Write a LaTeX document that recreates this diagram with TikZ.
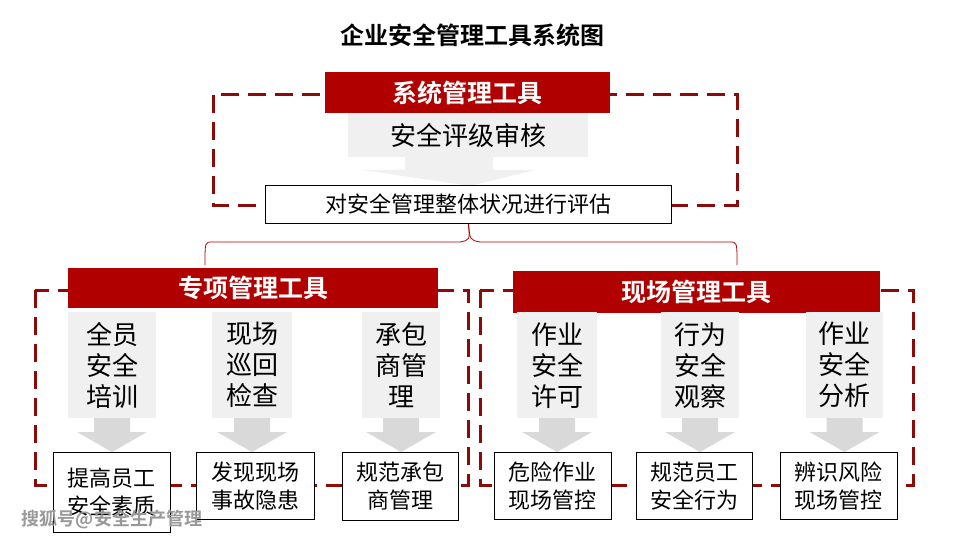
\documentclass[tikz,border=0pt]{standalone}
\usepackage{fontspec}
\setmainfont{Noto Sans CJK SC}
\newfontfamily\cjkb{Noto Sans CJK SC Bold}
\usetikzlibrary{calc}
\definecolor{bred}{HTML}{B00000}
\definecolor{dred}{HTML}{8B0A0A}
\definecolor{lg}{HTML}{F0F0F0}
\definecolor{ag}{HTML}{D9D9D9}
\begin{document}
\begin{tikzpicture}[x=1pt,y=-1pt,
 dframe/.style={draw=dred,line width=3pt,dash pattern=on 18pt off 9pt},
 banner/.style={fill=bred,text=white,font=\cjkb\fontsize{25}{25}\selectfont,inner sep=0pt,anchor=north west},
 gbox/.style={fill=lg,inner sep=0pt,anchor=north west,align=center,font=\fontsize{26}{31}\selectfont},
 wbox/.style={draw=black,fill=white,line width=0.8pt,inner sep=0pt,anchor=north west,align=center,font=\fontsize{22}{28}\selectfont}]
\useasboundingbox (0,0) rectangle (960,540);
\node[font=\cjkb\fontsize{24}{24}\selectfont] (title) at (472,35) {企业安全管理工具系统图};
% top
\draw[dframe] (213,95) rectangle (737,205);
\node[banner,minimum width=285pt,minimum height=41pt] (sb) at (325,72) {系统管理工具};
\node[gbox,minimum width=240pt,minimum height=44pt] (sg) at (348,113) {安全评级审核};
\fill[lg] (405,157) -- (493,157) -- (493,170) -- (535,170) -- (470,186) -- (363,170) -- (405,170) -- cycle;
\node[wbox,minimum width=406pt,minimum height=38pt] (sw) at (265,185) {对安全管理整体状况进行评估};
\draw[bred,line width=0.8pt] (sw.south) .. controls (470,240) .. (480,242) -- (730,242) .. controls (737,242) .. (737,265);
\draw[bred,line width=0.8pt] (sw.south) .. controls (470,240) .. (460,242) -- (212,242) .. controls (205,242) .. (205,265);
% left & right dashed
\draw[dframe] (35,290) rectangle (468,485);
\draw[dframe] (480,290) rectangle (913,485);
\node[banner,minimum width=370pt,minimum height=40pt] (lb) at (68,268) {专项管理工具};
\node[banner,minimum width=367pt,minimum height=42pt] (rb) at (513,271) {现场管理工具};
% columns
\foreach \n/\gx/\gw/\gt/\bx/\bw/\bt/\bh in {
 a/68/88/{全员\\安全\\培训}/53/117/{提高员工\\安全素质}/80,
 b/212/80/{现场\\巡回\\检查}/196/118/{发现现场\\事故隐患}/67,
 c/362/78/{承包\\商管\\理}/342/116/{规范承包\\商管理}/68,
 d/517/80/{作业\\安全\\许可}/494/117/{危险作业\\现场管控}/67,
 e/661/78/{行为\\安全\\观察}/636/116/{规范员工\\安全行为}/67,
 f/806/77/{作业\\安全\\分析}/780/117/{辨识风险\\现场管控}/67}{
 \node[gbox,minimum width=\gw pt,minimum height=106pt] (g\n) at (\gx,312) {\gt};
 \pgfmathsetmacro\cx{\gx+\gw/2}
 \fill[ag] (\cx-18,418) -- (\cx+18,418) -- (\cx+18,432) -- (\cx+35,432) -- (\cx,452) -- (\cx-35,432) -- (\cx-18,432) -- cycle;
 \node[wbox,minimum width=\bw pt,minimum height=\bh pt] (w\n) at (\bx,452) {\bt};
}
\node[font=\cjkb\fontsize{18}{18}\selectfont,text=gray!80] (wm) at (112,519) {搜狐号@安全生产管理};
\end{tikzpicture}
\end{document}
